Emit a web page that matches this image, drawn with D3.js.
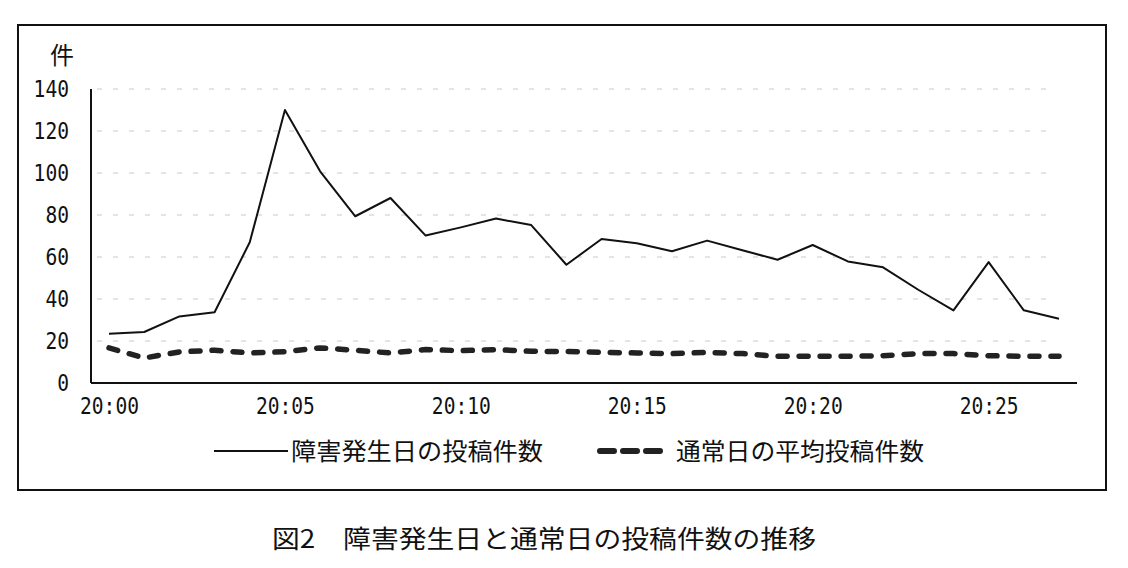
<!DOCTYPE html>
<html>
<head>
<meta charset="utf-8">
<script src="https://cdn.jsdelivr.net/npm/d3@7"></script>
<style>
  html, body { margin: 0; padding: 0; background: #fff; }
  svg { display: block; }
</style>
</head>
<body>
<div id="chart"></div>
<script>
// minutes along the x axis
const minutes = ["20:00","20:01","20:02","20:03","20:04","20:05","20:06","20:07","20:08","20:09",
                 "20:10","20:11","20:12","20:13","20:14","20:15","20:16","20:17","20:18","20:19",
                 "20:20","20:21","20:22","20:23","20:24","20:25","20:26","20:27"];
const tickLabels = ["20:00","20:05","20:10","20:15","20:20","20:25"];
const yTicks = [0, 20, 40, 60, 80, 100, 120, 140];

// 障害発生日の投稿件数
const failureDay = [23.5, 24.3, 31.7, 33.7, 67, 130, 100.8, 79.4, 88.1, 70.2,
                    74.1, 78.3, 75.2, 56.3, 68.6, 66.5, 62.7, 67.8, 63.2, 58.7,
                    65.7, 57.9, 55.1, 44.4, 34.6, 57.6, 34.6, 30.6];
// 通常日の平均投稿件数
const normalDay = [16.7, 11.9, 14.8, 15.6, 14.3, 14.9, 16.7, 15.6, 14.3, 15.9,
                   15.4, 15.9, 15.1, 15.0, 14.6, 14.3, 14.0, 14.6, 14.0, 12.7,
                   12.7, 12.7, 13.0, 14.0, 14.0, 13.0, 12.7, 12.7];

const seriesNames = ["障害発生日の投稿件数", "通常日の平均投稿件数"];
const unitLabel = "件";
const caption = "図2　障害発生日と通常日の投稿件数の推移";

const W = 1128, H = 568;
const ink = "#111";
const monoFont = "'DejaVu Sans Mono', 'Liberation Mono', monospace";
const jpFont = "'Noto Sans CJK JP', 'Noto Sans', sans-serif";

const svg = d3.select("#chart").append("svg")
    .attr("width", W)
    .attr("height", H);

// outer frame
svg.append("rect")
    .attr("x", 18).attr("y", 25)
    .attr("width", 1088).attr("height", 465)
    .attr("fill", "none")
    .attr("stroke", ink)
    .attr("stroke-width", 2);

const xScale = d3.scalePoint().domain(minutes).range([109, 1059]);
const yScale = d3.scaleLinear().domain([0, 140]).range([383, 89]);

const axisLeftX = 91, axisRightX = 1077;

// faint gridlines (barely visible in the print)
svg.append("g")
    .selectAll("line")
    .data(yTicks.filter(d => d > 0))
    .join("line")
    .attr("x1", axisLeftX + 6).attr("x2", axisRightX - 30)
    .attr("y1", d => yScale(d)).attr("y2", d => yScale(d))
    .attr("stroke", "#c8c8c8")
    .attr("stroke-width", 1)
    .attr("stroke-dasharray", "5,11");

// condensed tall digits like the print
const condense = sel => sel
    .attr("font-family", monoFont)
    .attr("font-size", 23)
    .attr("fill", ink)
    .attr("textLength", function () { return this.textContent.length * 11.8; })
    .attr("lengthAdjust", "spacingAndGlyphs");

// y axis
const yAxis = d3.axisLeft(yScale).tickValues(yTicks).tickSize(0).tickPadding(22);
const gy = svg.append("g")
    .attr("transform", `translate(${axisLeftX},0)`)
    .call(yAxis);
gy.select(".domain")
    .attr("d", `M0,${yScale(140)}V${yScale(0)}`)
    .attr("stroke", ink)
    .attr("stroke-width", 2);
gy.selectAll("text").call(condense);

// x axis
const xAxis = d3.axisBottom(xScale).tickValues(tickLabels).tickSize(0).tickPadding(15);
const gx = svg.append("g")
    .attr("transform", `translate(0,${yScale(0)})`)
    .call(xAxis);
gx.select(".domain")
    .attr("d", `M${axisLeftX},0H${axisRightX}`)
    .attr("stroke", ink)
    .attr("stroke-width", 2);
gx.selectAll("text").call(condense);

// unit label
svg.append("text")
    .attr("x", 62).attr("y", 64)
    .attr("text-anchor", "middle")
    .attr("font-family", jpFont)
    .attr("font-size", 24)
    .attr("fill", ink)
    .text(unitLabel);

const line = d3.line()
    .x((d, i) => xScale(minutes[i]))
    .y(d => yScale(d));

// 通常日 (thick dashes)
svg.append("path")
    .datum(normalDay)
    .attr("fill", "none")
    .attr("stroke", "#222")
    .attr("stroke-width", 5.5)
    .attr("stroke-linecap", "round")
    .attr("stroke-dasharray", "9,12")
    .attr("d", line);

// 障害発生日 (solid)
svg.append("path")
    .datum(failureDay)
    .attr("fill", "none")
    .attr("stroke", ink)
    .attr("stroke-width", 2)
    .attr("stroke-linejoin", "round")
    .attr("d", line);

// legend
const legY = 451;
svg.append("line")
    .attr("x1", 214).attr("x2", 288)
    .attr("y1", legY).attr("y2", legY)
    .attr("stroke", ink).attr("stroke-width", 2);
svg.append("text")
    .attr("x", 291).attr("y", legY + 9)
    .attr("font-family", jpFont)
    .attr("font-size", 24)
    .attr("textLength", 252)
    .attr("lengthAdjust", "spacingAndGlyphs")
    .attr("fill", ink)
    .text(seriesNames[0]);

svg.append("line")
    .attr("x1", 600).attr("x2", 660)
    .attr("y1", legY).attr("y2", legY)
    .attr("stroke", "#222").attr("stroke-width", 6)
    .attr("stroke-linecap", "round")
    .attr("stroke-dasharray", "14,9");
svg.append("text")
    .attr("x", 676).attr("y", legY + 9)
    .attr("font-family", jpFont)
    .attr("font-size", 24)
    .attr("textLength", 248)
    .attr("lengthAdjust", "spacingAndGlyphs")
    .attr("fill", ink)
    .text(seriesNames[1]);

// caption below the frame
svg.append("text")
    .attr("x", 272).attr("y", 548)
    .attr("font-family", jpFont)
    .attr("font-size", 25)
    .attr("textLength", 544)
    .attr("lengthAdjust", "spacingAndGlyphs")
    .attr("fill", ink)
    .text(caption);
</script>
</body>
</html>
